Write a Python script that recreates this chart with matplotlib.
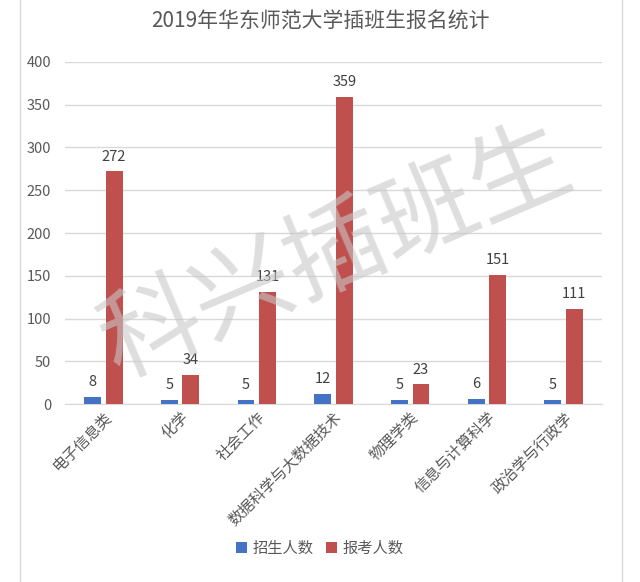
import numpy as np
import matplotlib.pyplot as plt
from matplotlib.lines import Line2D

plt.rcParams['font.family'] = ['Noto Sans CJK SC', 'DejaVu Sans']

categories = ['电子信息类', '化学', '社会工作', '数据科学与大数据技术',
              '物理学类', '信息与计算科学', '政治学与行政学']
enrolled = [8, 5, 5, 12, 5, 6, 5]
applied = [272, 34, 131, 359, 23, 151, 111]
series_names = ['招生人数', '报考人数']

blue = '#4472c4'
red = '#c0504d'
gray_text = '#595959'

fig = plt.figure(figsize=(6.4, 5.82), dpi=100)
ax = fig.add_axes([0.1016, 0.3058, 0.8390, 0.5877])

x = np.arange(len(categories))
w = 0.22
b1 = ax.bar(x - 0.14, enrolled, w, color=blue, label=series_names[0], zorder=3)
b2 = ax.bar(x + 0.14, applied, w, color=red, label=series_names[1], zorder=3)

for bars, vals in ((b1, enrolled), (b2, applied)):
    for bar, v in zip(bars, vals):
        ax.text(bar.get_x() + bar.get_width() / 2, v + 9, str(v),
                ha='center', va='bottom', fontsize=10.5, color='#404040', zorder=4)

ax.set_xlim(-0.5, len(categories) - 0.5)
ax.set_ylim(0, 400)
ax.set_yticks(range(0, 401, 50))
ax.yaxis.grid(True, color='#d9d9d9', linewidth=1, zorder=0)
for s in ['top', 'right', 'left']:
    ax.spines[s].set_visible(False)
ax.spines['bottom'].set_color('#d9d9d9')
ax.tick_params(axis='both', length=0, colors=gray_text, labelsize=10.5)
ax.tick_params(axis='y', pad=10)
ax.set_xticks(x)
ax.set_xticklabels(categories, rotation=45, ha='right', rotation_mode='anchor',
                   fontsize=11, color=gray_text)

fig.text(0.5, 0.962, '2019年华东师范大学插班生报名统计', ha='center', va='center',
         fontsize=15, color=gray_text)

ax.legend(loc='center', bbox_to_anchor=(0.5, 0.058), bbox_transform=fig.transFigure,
          ncol=2, frameon=False, fontsize=11, handlelength=0.7, handleheight=0.7,
          handletextpad=0.4, columnspacing=0.8, labelcolor=gray_text)

# watermark
fig.text(0.525, 0.565, '科兴插班生', ha='center', va='center', rotation=23,
         fontsize=72, color='#c8c8c8', alpha=0.6, zorder=10)

# outer chart border
fig.add_artist(Line2D([20 / 640, 20 / 640], [0, 1], color='#d9d9d9', linewidth=1))
fig.add_artist(Line2D([622 / 640, 622 / 640], [0, 1], color='#d9d9d9', linewidth=1))

fig.savefig('out.png', dpi=100)
